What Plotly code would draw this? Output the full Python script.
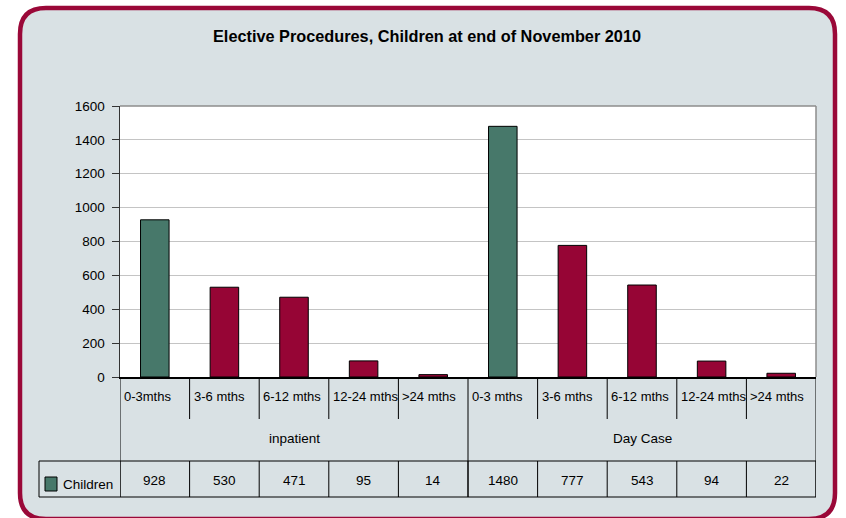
import plotly.graph_objects as go

# ---- data ----
groups = ["inpatient", "Day Case"]
age_bands = [["0-3mths", "3-6 mths", "6-12 mths", "12-24 mths", ">24 mths"],
             ["0-3 mths", "3-6 mths", "6-12 mths", "12-24 mths", ">24 mths"]]
children = [928, 530, 471, 95, 14, 1480, 777, 543, 94, 22]
series_name = "Children"
title = "Elective Procedures, Children at end of November 2010"
y_ticks = [0, 200, 400, 600, 800, 1000, 1200, 1400, 1600]

# ---- styling ----
W, H = 846, 518
L, R, T, B = 120, 30, 106, 141
PW, PH = W - L - R, H - T - B
BG = "#d9e1e4"
BORDER = "#9a0838"
GREEN = "#47786a"
RED = "#960535"
FONT = "Liberation Sans, Arial, sans-serif"

labels = age_bands[0] + age_bands[1]
n = len(labels)
xs = list(range(n))
colors = [GREEN if lab.startswith("0-3") else RED for lab in labels]


def px_x(p):
    return (p - L) / PW


def px_y(p):
    return (H - B - p) / PH


fig = go.Figure()
fig.add_trace(go.Bar(
    x=xs, y=children, name=series_name, width=0.41,
    marker=dict(color=colors, line=dict(color="black", width=1)),
    showlegend=False, hoverinfo="skip",
))

shapes = []
# rounded outer frame
x0, x1, y0, y1, r = 20, 835, 8, 519, 26
path = (f"M {px_x(x0 + r)},{px_y(y0)} L {px_x(x1 - r)},{px_y(y0)} "
        f"Q {px_x(x1)},{px_y(y0)} {px_x(x1)},{px_y(y0 + r)} "
        f"L {px_x(x1)},{px_y(y1 - r)} Q {px_x(x1)},{px_y(y1)} {px_x(x1 - r)},{px_y(y1)} "
        f"L {px_x(x0 + r)},{px_y(y1)} Q {px_x(x0)},{px_y(y1)} {px_x(x0)},{px_y(y1 - r)} "
        f"L {px_x(x0)},{px_y(y0 + r)} Q {px_x(x0)},{px_y(y0)} {px_x(x0 + r)},{px_y(y0)} Z")
shapes.append(dict(type="path", path=path, xref="paper", yref="paper",
                   fillcolor=BG, line=dict(color=BORDER, width=4.5), layer="below"))
# white plot area
shapes.append(dict(type="rect", xref="paper", yref="paper", x0=0, x1=1, y0=0, y1=1,
                   fillcolor="white", line=dict(width=0), layer="below"))
# top and right gray borders
shapes.append(dict(type="line", xref="paper", yref="paper", x0=0, x1=1, y0=1, y1=1,
                   line=dict(color="#8c8c8c", width=1.5)))
shapes.append(dict(type="line", xref="paper", yref="paper", x0=1, x1=1, y0=0, y1=1,
                   line=dict(color="#8c8c8c", width=1.5)))

line = dict(color="black", width=1)
y_cat_bot = px_y(419)
y_row_top = px_y(461)
y_row_bot = px_y(497)
# category separators
for i in range(n + 1):
    xb = i - 0.5
    full = i in (0, 5, 10)
    shapes.append(dict(type="line", xref="x", yref="paper", x0=xb, x1=xb,
                       y0=(y_row_bot if full else y_cat_bot), y1=0, line=line))
    shapes.append(dict(type="line", xref="x", yref="paper", x0=xb, x1=xb,
                       y0=y_row_bot, y1=y_row_top, line=line))
# data table row
shapes.append(dict(type="line", xref="paper", yref="paper", x0=px_x(39), x1=1,
                   y0=y_row_top, y1=y_row_top, line=line))
shapes.append(dict(type="line", xref="paper", yref="paper", x0=px_x(39), x1=1,
                   y0=y_row_bot, y1=y_row_bot, line=line))
shapes.append(dict(type="line", xref="paper", yref="paper", x0=px_x(39), x1=px_x(39),
                   y0=y_row_bot, y1=y_row_top, line=line))
# legend key
shapes.append(dict(type="rect", xref="paper", yref="paper", x0=px_x(45), x1=px_x(57),
                   y0=px_y(491), y1=px_y(477), fillcolor=GREEN, line=line))

ann = []
fs = 13.5
lfs = 13
ann.append(dict(text=f"<b>{title}</b>", xref="paper", yref="paper", x=px_x(427), y=px_y(36),
                xanchor="center", yanchor="middle", showarrow=False,
                font=dict(family=FONT, size=16.3, color="black")))
for i, lab in enumerate(labels):
    ann.append(dict(text=lab, xref="x", yref="paper", x=i - 0.5, y=px_y(396), xshift=2,
                    xanchor="left", yanchor="middle", showarrow=False,
                    font=dict(family=FONT, size=lfs, color="black")))
    ann.append(dict(text=str(children[i]), xref="x", yref="paper", x=i, y=px_y(480),
                    xanchor="center", yanchor="middle", showarrow=False,
                    font=dict(family=FONT, size=fs, color="black")))
for g, name in enumerate(groups):
    ann.append(dict(text=name, xref="x", yref="paper", x=g * 5 + 2, y=px_y(438),
                    xanchor="center", yanchor="middle", showarrow=False,
                    font=dict(family=FONT, size=fs, color="black")))
ann.append(dict(text=series_name, xref="paper", yref="paper", x=px_x(61), y=px_y(484),
                xanchor="left", yanchor="middle", showarrow=False,
                font=dict(family=FONT, size=fs, color="black")))

fig.update_layout(
    width=W, height=H,
    margin=dict(l=L, r=R, t=T, b=B, pad=0),
    paper_bgcolor="white", plot_bgcolor="white",
    shapes=shapes, annotations=ann,
    bargap=0, hovermode=False,
    xaxis=dict(range=[-0.5, n - 0.5], showticklabels=False, ticks="", showgrid=False,
               zeroline=False, showline=True, linecolor="black", linewidth=1.5, fixedrange=True),
    yaxis=dict(range=[0, 1600], tickvals=y_ticks, showgrid=True, gridcolor="#c4c4c4",
               gridwidth=1, zeroline=False, showline=True, linecolor="#333333", linewidth=1.5,
               ticks="outside", ticklen=7, tickcolor="#333333", ticklabelstandoff=4,
               tickfont=dict(family=FONT, size=fs, color="black"), fixedrange=True),
)

fig.write_html("out.html", config={"displayModeBar": False, "staticPlot": True},
               post_script="document.body.style.margin='0';document.body.style.overflow='hidden';")
